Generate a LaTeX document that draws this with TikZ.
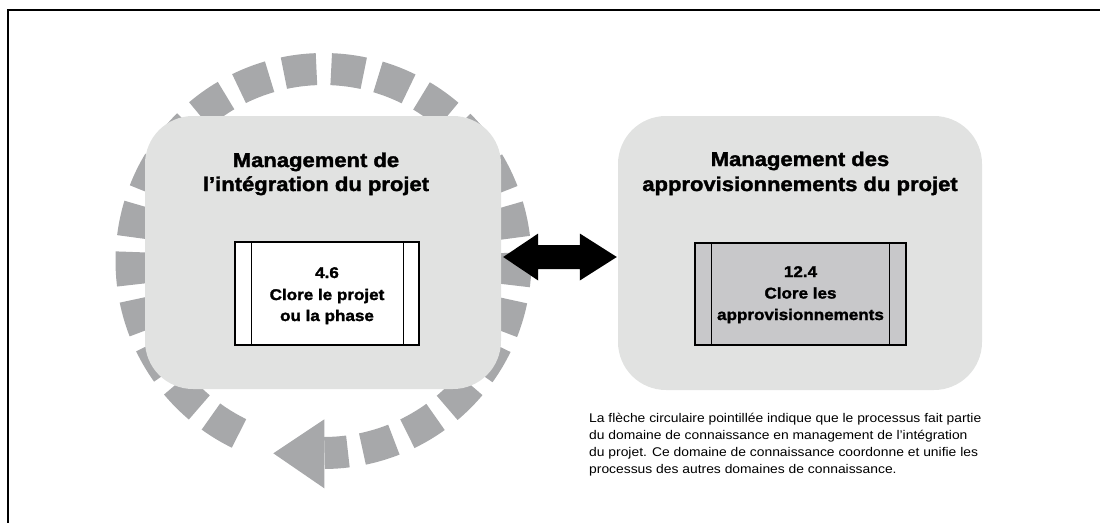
\documentclass[tikz,border=0pt]{standalone}
\usepackage{fontspec}
\setmainfont{Liberation Sans}[FakeStretch=1.1, BoldFeatures={FakeBold=1.8}]
\usetikzlibrary{calc}
\definecolor{ringgray}{HTML}{A7A8AA}
\definecolor{boxgray}{HTML}{E1E2E1}
\definecolor{procgray}{HTML}{C8C8CA}
\begin{document}
\begin{tikzpicture}[x=1pt,y=-1pt,
  ring/.style={draw=ringgray, line width=32pt},
  area/.style={fill=boxgray, draw=none, rounded corners=48pt, inner sep=0pt},
  proc/.style={draw=black, line width=1.2pt, inner sep=0pt},
  ttl/.style={anchor=base, inner sep=0pt, font=\fontsize{20}{24}\selectfont\bfseries},
  ptxt/.style={anchor=base, inner sep=0pt, font=\fontsize{15.5}{21}\selectfont\bfseries},
  captxt/.style={anchor=base west, inner sep=0pt, font=\fontsize{12.6}{17}\selectfont}]
\useasboundingbox (0,0) rectangle (1100,523);
% frame
\draw[line width=1.5pt] (1100,10) -- (8,10) -- (8,523);
% dashed circular arrow
\coordinate (C) at (323.5,261);
\foreach \k in {0,...,22}{
  \pgfmathsetmacro\a{121+14.2*\k}
  \draw[ring] ($(C)+(\a-4.9:192)$) arc[start angle=\a-4.9, end angle=\a+4.9, radius=192];
}
\draw[ring] ($(C)+(442.7:192)$) arc[start angle=442.7, end angle=449.7, radius=192];
\coordinate (hu) at (324.3,419.3);
\coordinate (ht) at (273.3,453.3);
\coordinate (hl) at (324.3,488.3);
\fill[ringgray] (hu) -- (ht) -- (hl) -- cycle;
% knowledge areas
\node[area, minimum width=356pt, minimum height=273pt] (lbox) at (323,252.5) {};
\node[area, minimum width=364pt, minimum height=274pt] (rbox) at (800,253) {};
% processes
\node[proc, fill=white, minimum width=184pt, minimum height=103pt] (lproc) at (327,293.5) {};
\draw[line width=1.2pt] ([xshift=17pt]lproc.north west) -- ([xshift=17pt]lproc.south west);
\draw[line width=1.2pt] ([xshift=-16pt]lproc.north east) -- ([xshift=-16pt]lproc.south east);
\node[proc, fill=procgray, minimum width=211pt, minimum height=102pt] (rproc) at (800.5,294) {};
\draw[line width=1.2pt] ([xshift=17pt]rproc.north west) -- ([xshift=17pt]rproc.south west);
\draw[line width=1.2pt] ([xshift=-17pt]rproc.north east) -- ([xshift=-17pt]rproc.south east);
% double arrow
\coordinate (aL) at ($(lbox.east)+(2,4.5)$);
\coordinate (aR) at ($(rbox.west)+(-1,4)$);
\fill[black] (aL) -- ++(35,-23.5) -- ++(0,11.5) -- ($(aR)+(-37,-12)$) -- ++(0,-11.5)
  -- (aR) -- ++(-37,23.5) -- ++(0,-11.5) -- ($(aL)+(35,12)$) -- ++(0,11.5) -- cycle;
% titles
\node[ttl] (lt1) at (316,167) {Management de};
\node[ttl] (lt2) at (316,191) {l’intégration du projet};
\node[ttl] (rt1) at (800,166) {Management des};
\node[ttl] (rt2) at (800,191) {approvisionnements du projet};
% process texts
\node[ptxt] (lp1) at (327,278) {4.6};
\node[ptxt] (lp2) at (327,300) {Clore le projet};
\node[ptxt] (lp3) at (327,321) {ou la phase};
\node[ptxt] (rp1) at (800.5,277) {12.4};
\node[ptxt] (rp2) at (800.5,298.5) {Clore les};
\node[ptxt] (rp3) at (800.5,320) {approvisionnements};
% caption
\node[captxt] (c1) at (589,422.3) {La flèche circulaire pointillée indique que le processus fait partie};
\node[captxt] (c2) at (589,439.3) {du domaine de connaissance en management de l’intégration};
\node[captxt] (c3) at (589,456.5) {du projet. Ce domaine de connaissance coordonne et unifie les};
\node[captxt] (c4) at (589,473.3) {processus des autres domaines de connaissance.};
\end{tikzpicture}
\end{document}
